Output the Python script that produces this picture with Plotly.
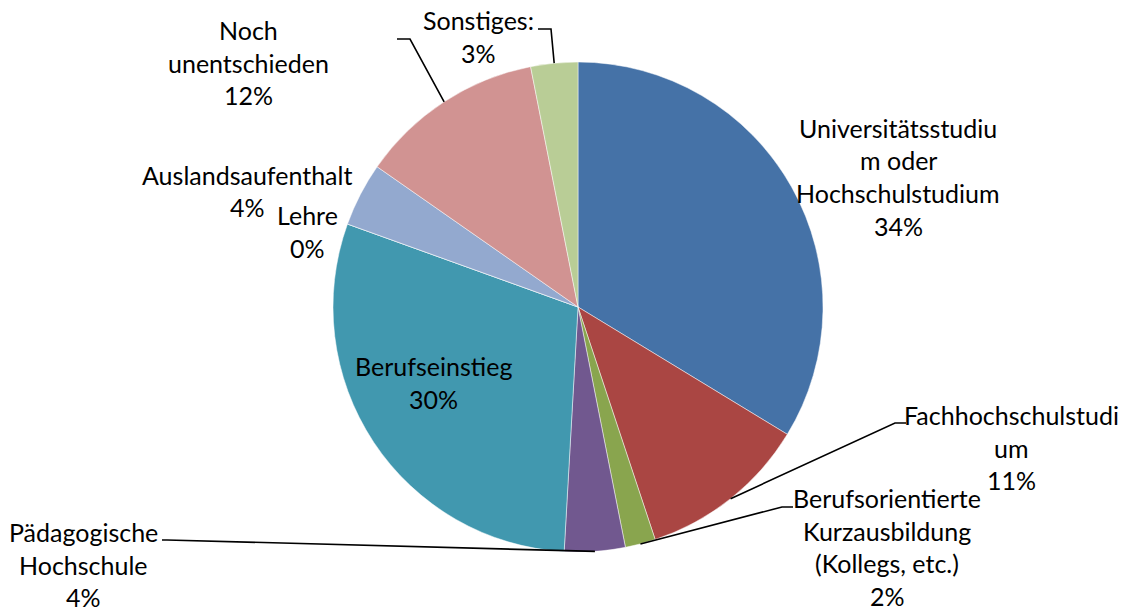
import math
import plotly.graph_objects as go

# ---- data ----
categories = [
    "Universitätsstudium oder Hochschulstudium",
    "Fachhochschulstudium",
    "Berufsorientierte Kurzausbildung (Kollegs, etc.)",
    "Pädagogische Hochschule",
    "Berufseinstieg",
    "Lehre",
    "Auslandsaufenthalt",
    "Noch unentschieden",
    "Sonstiges:",
]
values = [33.7, 11.2, 2.0, 4.0, 29.6, 0.0, 4.2, 12.2, 3.1]
# label lines as wrapped in the original chart (last line = percent)
label_lines = [
    ["Universitätsstudiu", "m oder", "Hochschulstudium"],
    ["Fachhochschulstudi", "um"],
    ["Berufsorientierte", "Kurzausbildung", "(Kollegs, etc.)"],
    ["Pädagogische", "Hochschule"],
    ["Berufseinstieg"],
    ["Lehre"],
    ["Auslandsaufenthalt"],
    ["Noch", "unentschieden"],
    ["Sonstiges:"],
]

# ---- style / layout ----
colors = ["#4572A7", "#AA4643", "#89A54E", "#71588F", "#4198AF",
          "#DB843D", "#93A9CF", "#D19392", "#B9CD96"]
W, H = 1135, 608
CX, CY, R = 578, 307, 245
FONT = "Lato"
FS = 25
LINE = 32.5
# label block positions (pixel): centre x, first line centre y
label_pos = [
    (898, 128), (1011, 415), (887, 498), (83, 532), (433, 366),
    (307, 215), (247, 175), (248, 30), (478, 20),
]
# leader lines: (elbow, end) in pixels, None = no leader
leaders = [
    None,
    ((895, 423), (906, 423)),
    ((782, 507), (793, 507)),
    ((167, 540), (162, 540)),
    None,
    None,
    None,
    ((410, 39), (397, 39)),
    ((551, 29), (538, 29)),
]

def px(x):
    return x / W

def py(y):
    return 1 - y / H

fig = go.Figure(go.Pie(
    labels=categories,
    values=values,
    sort=False,
    direction="clockwise",
    rotation=0,
    marker=dict(colors=colors, line=dict(color="rgba(255,255,255,0.6)", width=0.8)),
    textinfo="none",
    hoverinfo="label+percent",
    domain=dict(x=[px(CX - R), px(CX + R)], y=[py(CY + R), py(CY - R)]),
    showlegend=False,
))

total = sum(values)
annotations = []
shapes = []
cum = 0.0
for i, v in enumerate(values):
    pct = v / total
    mid = (cum + pct / 2) * 2 * math.pi
    cum += pct
    lines = label_lines[i] + [f"{round(pct * 100):.0f}%"]
    x0, y0 = label_pos[i]
    for j, t in enumerate(lines):
        annotations.append(dict(
            x=px(x0), y=py(y0 + j * LINE), xref="paper", yref="paper",
            text=t, showarrow=False, xanchor="center", yanchor="middle",
            font=dict(family=FONT, size=FS, color="#000000"),
        ))
    if leaders[i] is not None:
        ax = CX + R * math.sin(mid)
        ay = CY - R * math.cos(mid)
        (ex, ey), (fx, fy) = leaders[i]
        path = (f"M {px(ax)},{py(ay)} L {px(ex)},{py(ey)} L {px(fx)},{py(fy)}")
        shapes.append(dict(type="path", path=path, xref="paper", yref="paper",
                           line=dict(color="#000000", width=1.6)))

fig.update_layout(
    width=W, height=H,
    margin=dict(l=0, r=0, t=0, b=0),
    paper_bgcolor="white", plot_bgcolor="white",
    annotations=annotations, shapes=shapes,
)
fig.write_html("out.html",
               config={"displayModeBar": False},
               post_script="document.body.style.margin='0';document.body.style.overflow='hidden';")
